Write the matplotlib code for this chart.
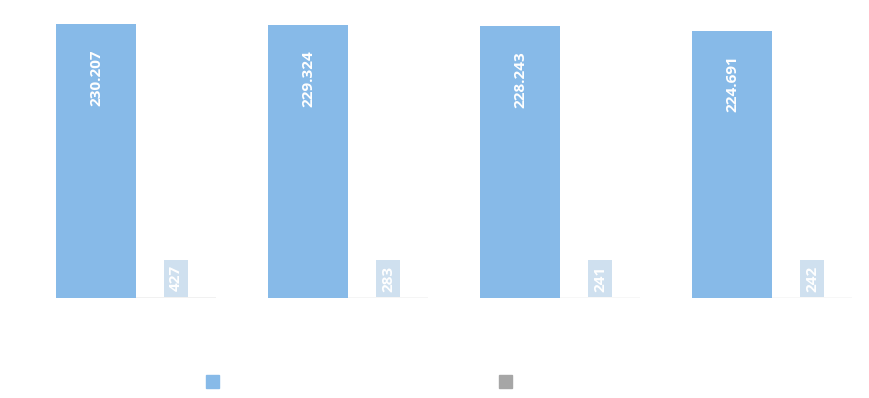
import numpy as np
import matplotlib.pyplot as plt
from matplotlib.patches import Patch

plt.rcParams['font.family'] = ['Open Sans', 'DejaVu Sans']

# data
groups = ['A', 'B', 'C', 'D']
series1 = [230207, 229324, 228243, 224691]
series2 = [427, 283, 241, 242]

blue = '#87bae8'
grey = '#a6a6a6'
box = '#cfe0ef'

fig = plt.figure(figsize=(8.69, 3.98), dpi=100)
# axes covers whole figure, limits chosen so bars land where the reference has them
ax = fig.add_axes([0, 100 / 398, 1, 298 / 398])

x = np.arange(len(groups))
w = 80 / 212
px = 230207 / 274  # data units per pixel vertically

b1 = ax.bar(x - w / 2, series1, w, color=blue, linewidth=0)
b2 = ax.bar(x + w / 2, series2, w, color=grey, linewidth=0, snap=False, alpha=0.3)

ax.set_xlim(-136 / 212, (869 - 136) / 212)
ax.set_ylim(0, 298 * px)
ax.axis('off')

def fmt(v):
    return f'{v:,}'.replace(',', '.')

for xi, v in zip(x, series1):
    ax.text(xi - w / 2, v - 25 * px, fmt(v), rotation=90, ha='center', va='top',
            color='white', fontsize=11, fontweight='bold')

for xi, v in zip(x, series2):
    ax.text(xi + w / 2, v + 6 * px, fmt(v), rotation=90, ha='center', va='bottom',
            color='white', fontsize=11, fontweight='bold',
            bbox=dict(boxstyle='square,pad=0.35', fc=box, ec='none'))

fig.legend(handles=[Patch(color=blue)], labels=[' '], loc='center left',
           bbox_to_anchor=(190 / 869, 1 - 382.5 / 398), frameon=False,
           handlelength=0.7, handleheight=0.7, fontsize=13)
fig.legend(handles=[Patch(color=grey)], labels=[' '], loc='center left',
           bbox_to_anchor=(483 / 869, 1 - 382.5 / 398), frameon=False,
           handlelength=0.7, handleheight=0.7, fontsize=13)

fig.savefig('out.png', dpi=100)
